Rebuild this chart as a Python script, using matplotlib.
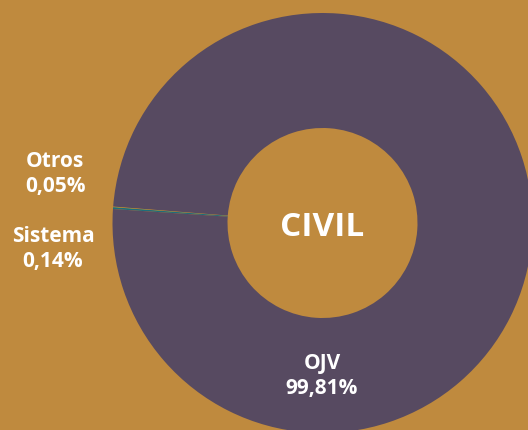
import matplotlib
matplotlib.use('Agg')
import matplotlib.pyplot as plt

# datos
labels = ['Otros', 'Sistema', 'OJV']
values = [0.05, 0.14, 99.81]
value_text = ['0,05%', '0,14%', '99,81%']
colors = ['#E3A51C', '#1E6E7A', '#574A61']

bg = '#BF8A3E'
plt.rcParams['font.family'] = ['Open Sans', 'DejaVu Sans']

fig = plt.figure(figsize=(5.28, 4.31), dpi=100)
fig.patch.set_facecolor(bg)
ax = fig.add_axes([0, 0, 1, 1])
ax.set_facecolor(bg)

cx, cy = 322.5, 431 - 224
r_out = 210
r_in = 95

ax.pie(values, colors=colors, startangle=175.5, counterclock=True,
       center=(cx, cy), radius=r_out,
       wedgeprops=dict(width=r_out - r_in, linewidth=0))

ax.set_xlim(0, 528)
ax.set_ylim(0, 431)
ax.set_aspect('equal')
ax.axis('off')

ax.text(cx, 431 - 227, 'CIVIL', ha='center', va='center', color='white',
        fontsize=24, fontweight='bold')

# etiquetas
pos = [(55, 174), (53, 249), (322, 376)]
for lab, txt, (x, y) in zip(labels, value_text, pos):
    ax.text(x, 431 - y, lab + '\n' + txt, ha='center', va='center',
            color='white', fontsize=15, fontweight='bold', linespacing=1.3)

plt.savefig('out.png', dpi=100, facecolor=bg)
